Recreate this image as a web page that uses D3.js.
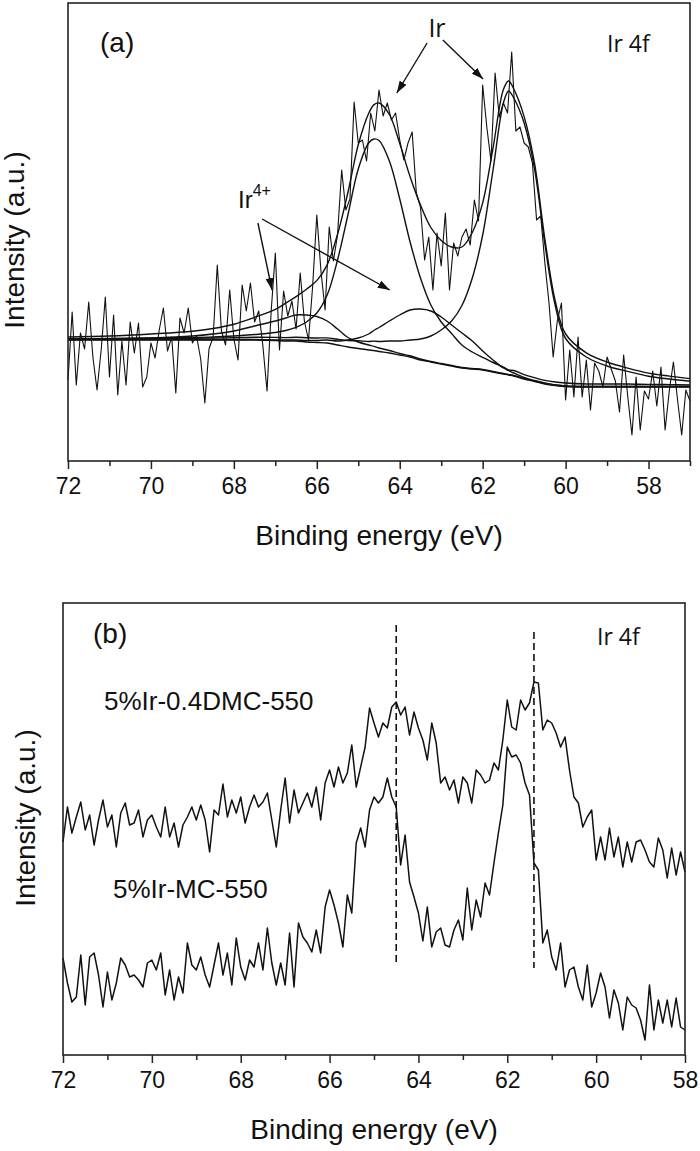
<!DOCTYPE html>
<html>
<head>
<meta charset="utf-8">
<title>Ir 4f XPS</title>
<style>
  body { margin: 0; background: #fff; }
  svg { display: block; font-family: "Liberation Sans", Arial, sans-serif; }
  .raw { fill: none; stroke: #111; stroke-width: 1.1px; stroke-linejoin: round; }
  .fit { fill: none; stroke: #111; stroke-width: 1.4px; }
  .trace { fill: none; stroke: #111; stroke-width: 1.5px; stroke-linejoin: round; }
  .box { fill: none; stroke: #222; stroke-width: 1.6px; }
  .axis path { display: none; }
  .axis line { stroke: #222; stroke-width: 1.5px; }
  .axis text { font-size: 23px; fill: #111; font-family: "Liberation Sans", Arial, sans-serif; }
  .title { font-size: 28px; fill: #111; }
  .note { font-size: 26px; fill: #111; }
  .calib { font-family: "Open Sans", "Noto Sans", sans-serif; font-size: 23px; fill: #111; }
  .ref { stroke: #111; stroke-width: 1.6px; stroke-dasharray: 7,4; }
  .arrow { stroke: #111; stroke-width: 1.4px; }
</style>
</head>
<body>
<svg id="chart" width="700" height="1151"></svg>

<script src="https://d3js.org/d3.v7.min.js"></script>
<script>
  // ---- panel (a): raw Ir 4f spectrum, 72 -> 57 eV, 0.1 eV steps
  const rawA = [81,149,76,128,112,159,104,71,111,164,84,146,66,120,76,139,108,138,74,84,
    118,103,131,153,110,124,68,143,128,153,118,125,102,58,112,124,196,130,116,171,
    122,101,176,150,178,139,150,115,70,150,208,111,170,145,160,132,188,140,121,175,
    246,190,151,234,200,226,291,251,262,359,318,321,300,348,330,371,345,358,341,348,
    321,301,318,329,268,254,201,224,171,228,195,248,171,218,205,224,232,216,261,240,
    376,334,300,388,344,358,348,409,330,334,318,314,298,241,245,198,158,104,140,158,
    61,111,64,124,64,101,51,98,90,74,104,92,80,49,106,64,26,84,31,70,
    62,90,55,94,31,70,99,61,26,71,60];
  const energyA = d3.range(rawA.length).map(i => Math.round((72 - i * 0.1) * 10) / 10);

  // fitted curves, read on a finer grid around the peaks
  const fitX = [72,71,70,69,68.5,68,67.5,67,66.75,66.5,66.25,66,65.75,65.5,65.25,65,
    64.75,64.625,64.5,64.25,64,63.75,63.5,63.25,63,62.75,62.5,62.25,62,61.75,61.5,61.375,
    61.25,61,60.75,60.5,60.25,60,59.5,59,58.5,58,57.5,57];
  const background = [121,121,121,121,121,121,121,120.5,120,120,119,118.5,118,116,114,112.5,
    111,110.5,109.5,108,106,104,101,99,97,95,93,92,91,89,87,86,
    85,82,79.5,77,75.5,74.5,74,74,74,74,74,74];
  const irMetal72 = [122,122,122.4,122.7,123,123.3,123.7,123.6,123.4,123.7,123.3,123,123.1,121.7,120.5,120.2,
    119.5,119.9,119.5,120,120,121,122,125,131,140,155.5,183,226,291,358,370,
    363,338,292.5,217,155.5,122.5,104,95,89.6,84.8,82,79.7];
  const irMetal52 = [122,122.5,123,123.5,124,125,126.5,128.5,130.5,133.7,139,148,166,201,246,292,
    318,322,320.5,300,262,219,183,156,139,127.5,116,109,103.6,98.5,94,91,
    90.5,86.4,83.3,80.6,79,78,77,77,77,76.6,76.4,76];
  const irOx72 = [121.5,121.5,121.5,121.5,121.5,121.5,121.5,121,121,121,120.5,120.5,121,120,121,123,
    127,130.5,133.5,140,146,151,152,150,144,136,128,120,110,101,93,90.5,
    88,83.5,80.5,78,76,75,74.5,74.5,74.5,74.5,74.5,74.5];
  const irOx52 = [121.5,122,123,125,127,130,135,140,143,146,146,144.5,140,132,123.5,119,
    116,114.7,113,110.5,107.5,105.2,102,99.5,97.5,95.5,93.5,92.5,91.5,89.5,87.5,86.5,
    85.5,82.5,80,77.5,76,75,74.5,74.5,74.5,74.5,74.5,74.5];
  const envelope = [124,125,127,129.7,132.5,136.8,143.7,151.6,157.9,164.4,171.8,180.4,196.1,226.7,268.5,316.2,
    347.5,356.1,358,346.5,317.5,284.2,256,233.5,220.5,214,214,228.5,258.1,313,371.5,380,
    372,344.4,297.8,222,160,127,108.2,99,92.9,87.9,84.9,82.4];

  // ---- panel (b): two catalysts, 72 -> 58 eV, 0.1 eV steps
  const samples = ["5%Ir-0.4DMC-550", "5%Ir-MC-550"];
  const dmc = [203,238,212,228,243,215,230,200,225,245,218,230,198,232,242,220,222,235,208,225,
    230,218,208,238,208,222,198,220,228,238,225,240,225,193,235,230,261,228,245,232,
    248,222,238,250,238,243,252,225,198,235,267,222,255,232,242,252,238,258,225,262,
    275,258,278,262,272,300,258,278,298,337,322,308,322,317,338,343,330,338,310,333,
    317,305,285,322,302,262,268,255,265,242,268,262,242,275,270,262,265,282,275,305,
    345,318,315,345,335,342,363,362,315,325,322,312,298,308,275,248,242,218,228,235,
    185,208,185,217,188,208,178,203,183,203,205,195,183,178,207,195,167,197,170,193,173];
  const mc = [87,62,43,48,90,40,88,92,70,38,73,45,62,87,80,68,70,65,58,82,
    85,75,92,50,75,45,68,52,102,80,75,88,70,58,80,102,70,92,60,107,
    78,65,85,78,102,75,117,82,60,82,60,112,58,122,108,102,93,115,92,138,
    155,140,122,98,150,132,202,217,198,235,248,242,248,267,248,238,180,210,163,148,
    132,104,138,98,113,117,100,98,115,125,105,157,115,145,128,162,150,182,212,240,
    298,288,290,282,262,250,182,175,102,115,88,75,102,58,75,78,58,45,80,38,
    52,72,58,27,55,42,15,48,40,37,25,5,60,15,45,22,45,18,47,18,15];
  const energyB = d3.range(dmc.length).map(i => Math.round((72 - i * 0.1) * 10) / 10);
  const refPeaks = [64.5, 61.4];
  const refSpan = [[82, 420], [77, 413]];

  const majorA = [72, 70, 68, 66, 64, 62, 60, 58];
  const minorA = [71, 69, 67, 65, 63, 61, 59, 57];
  const majorB = [72, 70, 68, 66, 64, 62, 60, 58];
  const minorB = [71, 69, 67, 65, 63, 61, 59];

  // arrows of panel (a), in eV / intensity units
  const arrowsA = [
    { from: [63.34, 418], to: [64.07, 368] },
    { from: [62.96, 421], to: [61.99, 382] },
    { from: [67.42, 238], to: [67.08, 171] },
    { from: [67.32, 242], to: [64.24, 171] }
  ];

  const svg = d3.select("#chart");

  svg.append("defs").append("marker")
    .attr("id", "head")
    .attr("viewBox", "0 0 10 10")
    .attr("refX", 10).attr("refY", 5)
    .attr("markerUnits", "userSpaceOnUse")
    .attr("markerWidth", 12).attr("markerHeight", 8)
    .attr("preserveAspectRatio", "none")
    .attr("orient", "auto")
    .append("path").attr("d", "M0,0 L10,5 L0,10 z").attr("fill", "#111");

  function frame(x, y, top, bottom, major, minor) {
    const [x0, x1] = x.range();
    svg.append("g").attr("class", "axis")
      .attr("transform", `translate(0,${bottom})`)
      .call(d3.axisBottom(x).tickValues(major).tickSize(8).tickPadding(9).tickFormat(d3.format("d")));
    svg.append("g").attr("class", "axis")
      .attr("transform", `translate(0,${bottom})`)
      .call(d3.axisBottom(x).tickValues(minor).tickSize(5).tickFormat(""));
    svg.append("rect").attr("class", "box")
      .attr("x", x0).attr("y", top).attr("width", x1 - x0).attr("height", bottom - top);
    svg.append("text").attr("class", "title")
      .attr("x", (x0 + x1) / 2).attr("y", bottom + 84)
      .attr("text-anchor", "middle").text("Binding energy (eV)");
  }

  // ---------- panel (a)
  const xA = d3.scaleLinear().domain([72, 57]).range([68, 690]);
  const yA = d3.scaleLinear().domain([0, 458]).range([461, 3]);

  const rawLine = d3.line().x((d, i) => xA(energyA[i])).y(d => yA(d));
  const fitLine = d3.line().x((d, i) => xA(fitX[i])).y(d => yA(d)).curve(d3.curveCatmullRom.alpha(0.5));

  svg.append("path").attr("class", "raw").attr("d", rawLine(rawA));
  [background, irMetal72, irMetal52, irOx72, irOx52, envelope].forEach(s => {
    svg.append("path").attr("class", "fit").attr("d", fitLine(s));
  });

  svg.selectAll(".arrow").data(arrowsA).enter().append("line")
    .attr("class", "arrow")
    .attr("x1", d => xA(d.from[0])).attr("y1", d => yA(d.from[1]))
    .attr("x2", d => xA(d.to[0])).attr("y2", d => yA(d.to[1]))
    .attr("marker-end", "url(#head)");

  frame(xA, yA, 3, 461, majorA, minorA);

  svg.append("text").attr("class", "note").attr("x", 100).attr("y", 52).style("font-size", "28px").text("(a)");
  svg.append("text").attr("class", "calib").attr("x", 607).attr("y", 52).text("Ir 4f");
  svg.append("text").attr("class", "calib").attr("x", 437).attr("y", 37)
    .attr("text-anchor", "middle").style("font-size", "25px").text("Ir");
  const ox = svg.append("text").attr("class", "note").attr("x", 238).attr("y", 208).style("font-size", "24px");
  ox.append("tspan").text("Ir");
  ox.append("tspan").attr("dy", -12).style("font-size", "16px").text("4+");
  svg.append("text").attr("class", "title")
    .attr("transform", "translate(24,240) rotate(-90)")
    .attr("text-anchor", "middle").text("Intensity (a.u.)");

  // ---------- panel (b)
  const xB = d3.scaleLinear().domain([72, 58]).range([63, 685]);
  const yB = d3.scaleLinear().domain([-10, 442]).range([1055, 603]);
  const lineB = d3.line().x((d, i) => xB(energyB[i])).y(d => yB(d));

  [dmc, mc].forEach(s => {
    svg.append("path").attr("class", "trace").attr("d", lineB(s));
  });

  svg.selectAll(".ref").data(refPeaks).enter().append("line")
    .attr("class", "ref")
    .attr("x1", d => xB(d)).attr("x2", d => xB(d))
    .attr("y1", (d, i) => yB(refSpan[i][1])).attr("y2", (d, i) => yB(refSpan[i][0]));

  frame(xB, yB, 603, 1055, majorB, minorB);

  svg.append("text").attr("class", "note").attr("x", 93).attr("y", 643).style("font-size", "28px").text("(b)");
  svg.append("text").attr("class", "calib").attr("x", 597).attr("y", 645).text("Ir 4f");
  svg.append("text").attr("class", "note").attr("x", 104).attr("y", 710).text(samples[0]);
  svg.append("text").attr("class", "note").attr("x", 113).attr("y", 898).text(samples[1]);
  svg.append("text").attr("class", "title")
    .attr("transform", "translate(35,818) rotate(-90)")
    .attr("text-anchor", "middle").text("Intensity (a.u.)");
</script>
</body>
</html>
